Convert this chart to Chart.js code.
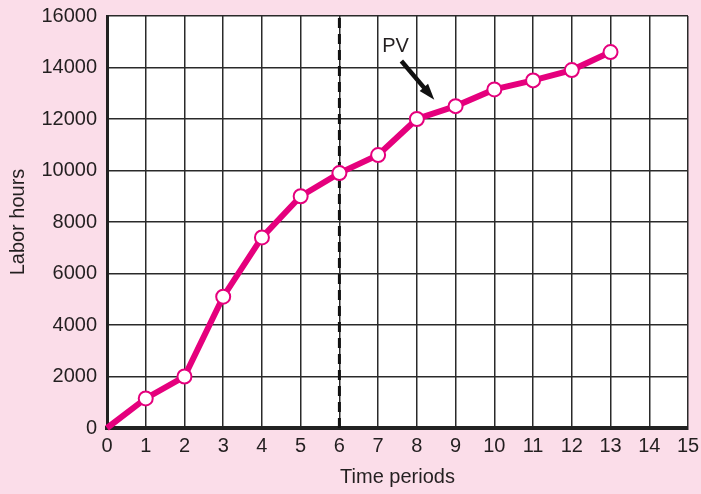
<!DOCTYPE html>
<html>
<head>
<meta charset="utf-8">
<script src="https://cdn.jsdelivr.net/npm/chart.js@4.4.1/dist/chart.umd.min.js"></script>
<style>
  html, body { margin:0; padding:0; background:#fbdde9; }
  #wrap { width:701px; height:494px; position:relative; }
</style>
</head>
<body>
<div id="wrap"><canvas id="chart"></canvas></div>
<script>
// --- DATA ---
const periods = [0, 1, 2, 3, 4, 5, 6, 7, 8, 9, 10, 11, 12, 13];
const laborHours = [0, 1150, 2000, 5100, 7400, 9000, 9900, 10600, 12000, 12500, 13150, 13500, 13900, 14600];
const statusDateX = 6;
const pvLabel = 'PV';
const pvLabelAt = { x: 7.45, y: 14800 };
const pvArrowFrom = { x: 7.6, y: 14250 };
const pvArrowTo = { x: 8.45, y: 12750 };

// --- COLORS ---
const BG_COLOR = '#fbdde9';
const LINE_COLOR = '#e5007d';
const GRID_COLOR = '#2a2a2a';
const TEXT_COLOR = '#231f20';
const FONT = 'Liberation Sans, Arial, Helvetica, sans-serif';
const FONT_SIZE = 20;

// dashed status line + PV arrow, placed through the scales
const overlay = {
  id: 'overlay',
  beforeDatasetsDraw(chart){
    const {ctx, scales:{x, y}} = chart;
    ctx.save();
    ctx.strokeStyle = '#111';
    ctx.lineWidth = 3;
    ctx.setLineDash([10, 6]);
    ctx.beginPath();
    ctx.moveTo(x.getPixelForValue(statusDateX), y.getPixelForValue(0));
    ctx.lineTo(x.getPixelForValue(statusDateX), y.getPixelForValue(16000));
    ctx.stroke();
    ctx.restore();
  },
  afterDatasetsDraw(chart){
    const {ctx, scales:{x, y}} = chart;
    const x1 = x.getPixelForValue(pvArrowFrom.x), y1 = y.getPixelForValue(pvArrowFrom.y);
    const x2 = x.getPixelForValue(pvArrowTo.x), y2 = y.getPixelForValue(pvArrowTo.y);
    const ang = Math.atan2(y2 - y1, x2 - x1);
    const head = 17;
    ctx.save();
    ctx.strokeStyle = '#111';
    ctx.fillStyle = '#111';
    ctx.lineWidth = 4.5;
    ctx.beginPath();
    ctx.moveTo(x1, y1);
    ctx.lineTo(x2 - Math.cos(ang) * head * 0.8, y2 - Math.sin(ang) * head * 0.8);
    ctx.stroke();
    ctx.beginPath();
    ctx.moveTo(x2, y2);
    ctx.lineTo(x2 - head * Math.cos(ang - 0.33), y2 - head * Math.sin(ang - 0.33));
    ctx.lineTo(x2 - head * Math.cos(ang + 0.33), y2 - head * Math.sin(ang + 0.33));
    ctx.closePath();
    ctx.fill();
    ctx.font = FONT_SIZE + 'px ' + FONT;
    ctx.fillStyle = TEXT_COLOR;
    ctx.textAlign = 'center';
    ctx.textBaseline = 'middle';
    ctx.fillText(pvLabel, x.getPixelForValue(pvLabelAt.x), y.getPixelForValue(pvLabelAt.y));
    ctx.restore();
  }
};

const plotBg = {
  id: 'plotBg',
  beforeDraw(chart){
    const {ctx, chartArea:a} = chart;
    ctx.save();
    ctx.fillStyle = BG_COLOR;
    ctx.fillRect(0, 0, chart.width, chart.height);
    ctx.fillStyle = '#fff';
    ctx.fillRect(a.left, a.top, a.right - a.left, a.bottom - a.top);
    ctx.restore();
  }
};

new Chart(document.getElementById('chart'), {
  type: 'line',
  data: {
    labels: periods,
    datasets: [{
      data: periods.map((p, i) => ({ x: p, y: laborHours[i] })),
      borderColor: LINE_COLOR,
      borderWidth: 6,
      pointRadius: periods.map(p => p === 0 ? 0 : 7),
      pointBackgroundColor: '#fff',
      pointBorderColor: LINE_COLOR,
      pointBorderWidth: 2,
      tension: 0,
      clip: false
    }]
  },
  options: {
    responsive: true,
    maintainAspectRatio: false,
    animation: false,
    layout: { padding: { top: 16, right: 13, left: 0, bottom: 0 } },
    plugins: { legend: { display: false }, tooltip: { enabled: false } },
    scales: {
      x: {
        type: 'linear',
        min: 0, max: 15,
        ticks: { stepSize: 1, color: TEXT_COLOR, font: { family: FONT, size: FONT_SIZE }, padding: 6, callback: v => String(v) },
        grid: { color: GRID_COLOR, lineWidth: 1.5, drawTicks: false },
        border: { color: '#222', width: 4 },
        title: { display: true, text: 'Time periods', color: TEXT_COLOR, font: { family: FONT, size: FONT_SIZE }, padding: { top: 4, bottom: 5 } },
        afterFit: s => { s.height = 66; s.paddingLeft = 0; s.paddingRight = 0; }
      },
      y: {
        min: 0, max: 16000,
        ticks: { stepSize: 2000, color: TEXT_COLOR, font: { family: FONT, size: FONT_SIZE }, padding: 10, callback: v => String(v) },
        grid: { color: GRID_COLOR, lineWidth: 1.5, drawTicks: false },
        border: { color: '#222', width: 3 },
        title: { display: true, text: 'Labor hours', color: TEXT_COLOR, font: { family: FONT, size: FONT_SIZE }, padding: { top: 6, bottom: 4 } },
        afterFit: s => { s.width = 107; s.paddingTop = 0; s.paddingBottom = 0; }
      }
    }
  },
  plugins: [plotBg, overlay]
});
</script>
</body>
</html>
